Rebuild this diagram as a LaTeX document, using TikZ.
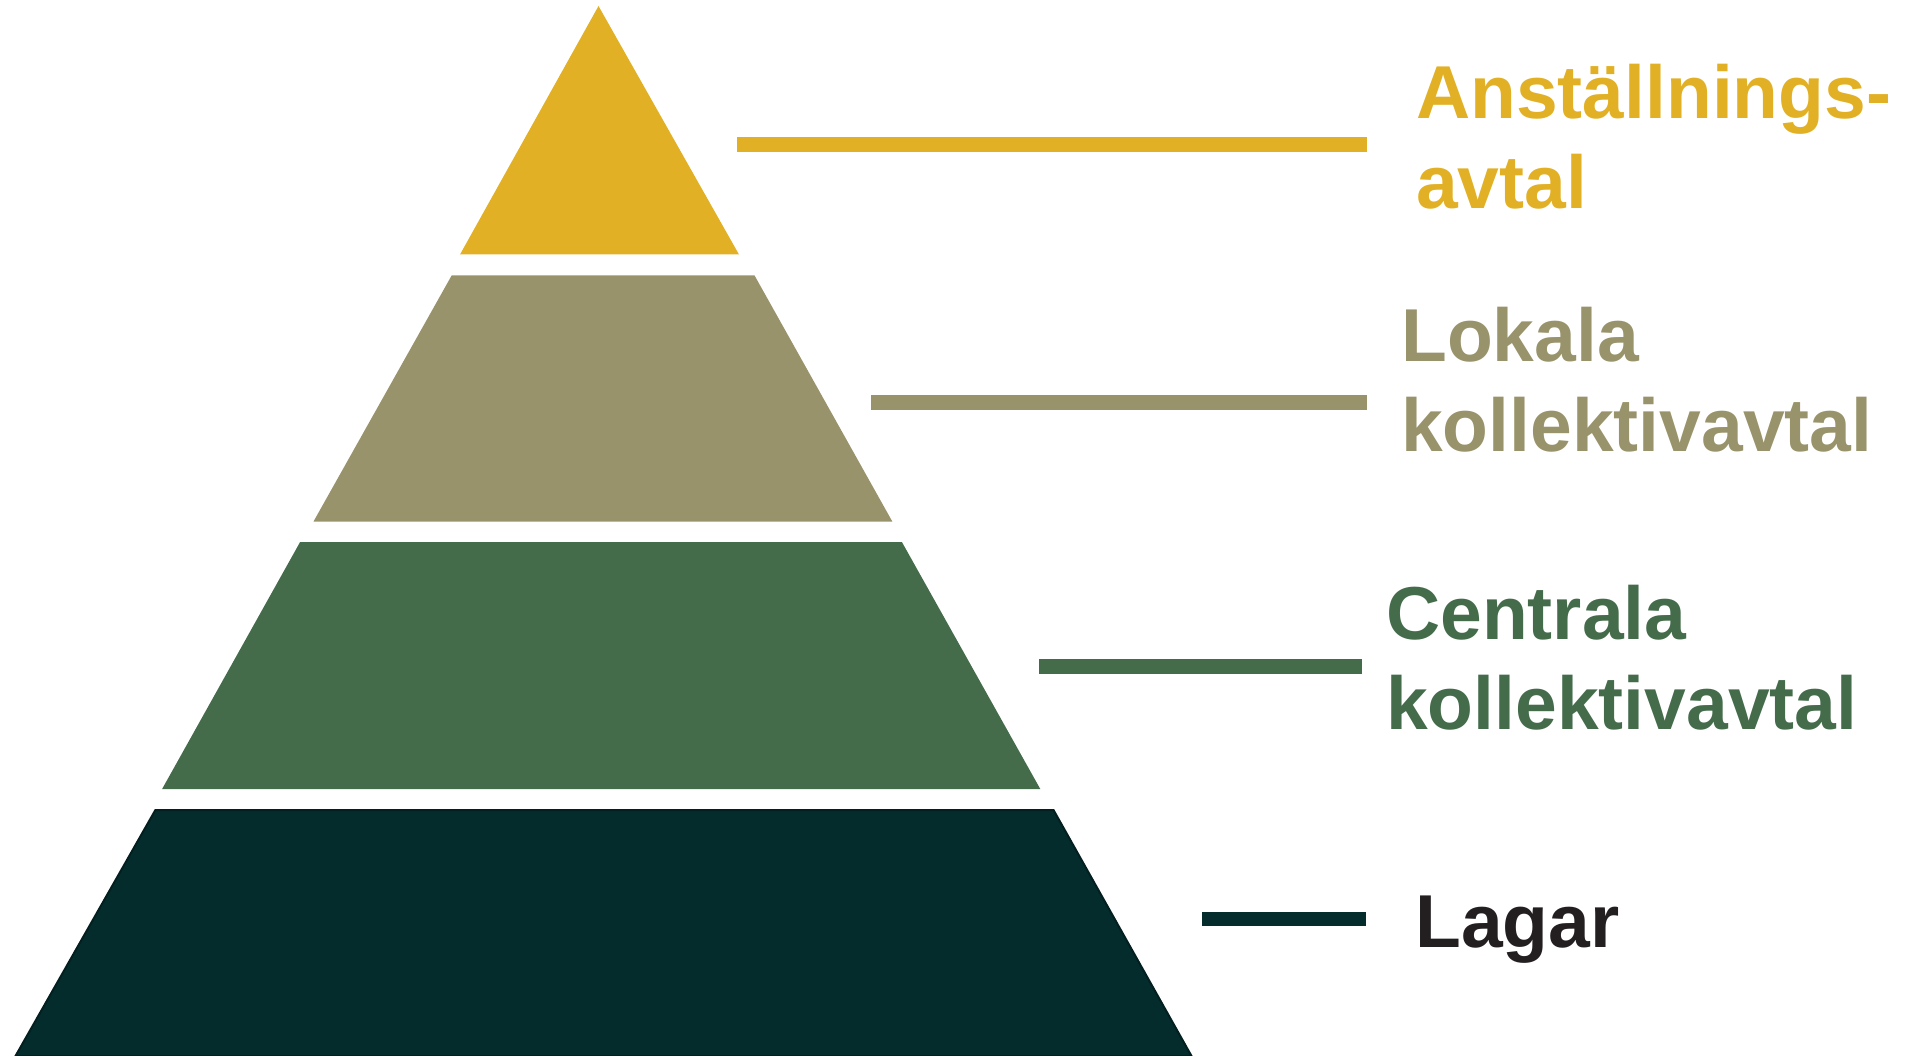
\documentclass[tikz,border=0pt]{standalone}
\usepackage{fontspec}
\setmainfont{Liberation Sans}
\usepackage{xcolor}
\usetikzlibrary{positioning}
\definecolor{gold}{HTML}{E2B025}
\definecolor{khaki}{HTML}{98936A}
\definecolor{moss}{HTML}{446C4B}
\definecolor{pine}{HTML}{042C2C}
\definecolor{ink}{HTML}{231F20}

\begin{document}
\begin{tikzpicture}[
    x=1pt, y=-1pt,
    every node/.style={font=\bfseries\fontsize{75}{90}\selectfont},
    lbl/.style={align=left, inner sep=0pt, anchor=base west},
    bar/.style={line width=15pt}
  ]
  \useasboundingbox (0,0) rectangle (1919,1056);

  % pyramid, top to bottom
  \fill[gold] (598.5,6) -- (739,254.5) -- (460,254.5) -- cycle;
  \fill[khaki] (451.7,275.4) -- (754.5,275.4) -- (892.3,521.5) -- (313.5,521.5) -- cycle;
  \fill[moss] (300,542.2) -- (902,542.2) -- (1040.4,789.2) -- (162,789.2) -- cycle;
  \filldraw[fill=pine, draw=pine!70!black, line width=2pt]
    (155.4,810) -- (1053.5,810) -- (1191.5,1056) -- (15.5,1056) -- cycle;

  % labels on the right (base = last line)
  \node[lbl, text=gold] (anst) at (1416,209) {Anställnings-\\avtal};
  \node[lbl, text=khaki] (lokala) at (1401,451.7) {Lokala\\kollektivavtal};
  \node[lbl, text=moss] (centrala) at (1386,729.3) {Centrala\\kollektivavtal};
  \node[lbl, text=ink] (lagar) at (1415,947.7) {Lagar};

  % bars from each layer to its label
  \coordinate (b1) at (737,144.5);
  \coordinate (b2) at (871.3,402.3);
  \coordinate (b3) at (1039,666);
  \coordinate (b4) at (1202,919);
  \draw[bar, gold, shorten >=49pt] (b1) -- (b1 -| anst.west);
  \draw[bar, khaki, shorten >=34pt] (b2) -- (b2 -| lokala.west);
  \draw[bar, moss, shorten >=24pt] (b3) -- (b3 -| centrala.west);
  \draw[bar, pine, line width=14pt, shorten >=49pt] (b4) -- (b4 -| lagar.west);
\end{tikzpicture}
\end{document}
